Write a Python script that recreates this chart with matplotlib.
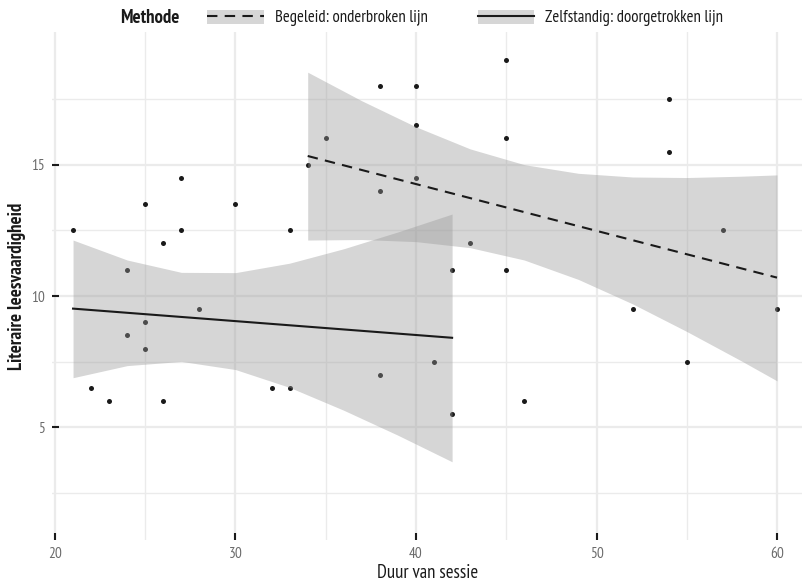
import numpy as np
import matplotlib
matplotlib.use("Agg")
import matplotlib.pyplot as plt
from matplotlib.patches import Patch
from matplotlib.lines import Line2D

# observations (duur van sessie, literaire leesvaardigheid)
duur = [21, 22, 23, 24, 24, 25, 25, 25, 26, 26, 27, 27, 28, 30, 32, 33, 33,
        34, 35, 38, 38, 38, 40, 40, 40, 41, 42, 42,
        43, 45, 45, 45, 46, 52, 54, 54, 55, 57, 60]
score = [12.5, 6.5, 6, 11, 8.5, 13.5, 9, 8, 12, 6, 14.5, 12.5, 9.5, 13.5, 6.5, 12.5, 6.5,
         15, 16, 18, 14, 7, 18, 16.5, 14.5, 7.5, 5.5, 11,
         12, 19, 16, 11, 6, 9.5, 17.5, 15.5, 7.5, 12.5, 9.5]

# regression lines and confidence bands
zelf_x = [21, 24, 27, 30, 33, 36, 39, 42]
zelf_lo = [6.89, 7.35, 7.51, 7.20, 6.52, 5.65, 4.70, 3.69]
zelf_hi = [12.13, 11.37, 10.90, 10.89, 11.25, 11.80, 12.44, 13.12]
zelf_line_x = [21, 42]
zelf_line_y = [9.52, 8.41]

beg_x = [34, 37, 40, 43, 46, 49, 52, 55, 58, 60]
beg_lo = [12.13, 12.15, 12.07, 11.84, 11.37, 10.63, 9.70, 8.65, 7.54, 6.77]
beg_hi = [18.52, 17.43, 16.44, 15.60, 15.00, 14.67, 14.53, 14.51, 14.56, 14.61]
beg_line_x = [34, 60]
beg_line_y = [15.33, 10.70]

labels = ['Begeleid: onderbroken lijn', 'Zelfstandig: doorgetrokken lijn']
dash = (0, (5, 3.5))
ink = '#1a1a1a'

plt.rcParams['font.family'] = ['PT Sans Narrow', 'Roboto Condensed', 'Archivo Narrow', 'DejaVu Sans']

fig = plt.figure(figsize=(8.03, 5.84), dpi=100)
ax = fig.add_axes([52 / 803, 1 - 540 / 584, 1 - 52 / 803, (540 - 32) / 584])

ax.scatter(duur, score, s=13, color=ink, zorder=2, linewidths=0)

ax.fill_between(zelf_x, zelf_lo, zelf_hi, color='#999999', alpha=0.4, lw=0, zorder=3)
ax.fill_between(beg_x, beg_lo, beg_hi, color='#999999', alpha=0.4, lw=0, zorder=3)
ax.plot(zelf_line_x, zelf_line_y, color=ink, lw=1.5, zorder=4)
ax.plot(beg_line_x, beg_line_y, color=ink, lw=1.5, ls=dash, zorder=4)

ax.set_xlim(19.834, 61.44)
ax.set_ylim(0.712, 20.05)
ax.set_xticks([20, 30, 40, 50, 60])
ax.set_xticks([25, 35, 45, 55], minor=True)
ax.set_yticks([5, 10, 15])
ax.set_yticks([2.5, 7.5, 12.5, 17.5], minor=True)
ax.grid(True, which='major', color='#ebebeb', lw=1.6, zorder=0)
ax.grid(True, which='minor', color='#ebebeb', lw=1.0, zorder=0)
ax.set_axisbelow(True)
for sp in ax.spines.values():
    sp.set_visible(False)
ax.tick_params(which='major', direction='in', length=5, width=1.5, color=ink,
               labelcolor='#6b6b6b', labelsize=11, pad=5)
ax.tick_params(which='minor', length=0)
ax.set_xlabel('Duur van sessie', fontsize=13.5, color=ink, labelpad=2)
ax.set_ylabel('Literaire leesvaardigheid', fontsize=13.5, color=ink,
              fontweight='bold', labelpad=4)

fig.text(120 / 803, 1 - 18 / 584, 'Methode', fontsize=13.5, fontweight='bold',
         color=ink, ha='left', va='center')
key = Patch(facecolor='#999999', alpha=0.4, edgecolor='none')
handles = [(key, Line2D([], [], color=ink, lw=1.5, ls=dash)),
           (key, Line2D([], [], color=ink, lw=1.5))]
fig.legend(handles, labels, loc='center left', bbox_to_anchor=(192 / 803, 1 - 18 / 584),
           ncol=2, frameon=False, fontsize=12, handlelength=3.4, handleheight=0.9,
           handletextpad=0.66, columnspacing=3.0, labelcolor=ink)

fig.savefig("out.png", dpi=100)
